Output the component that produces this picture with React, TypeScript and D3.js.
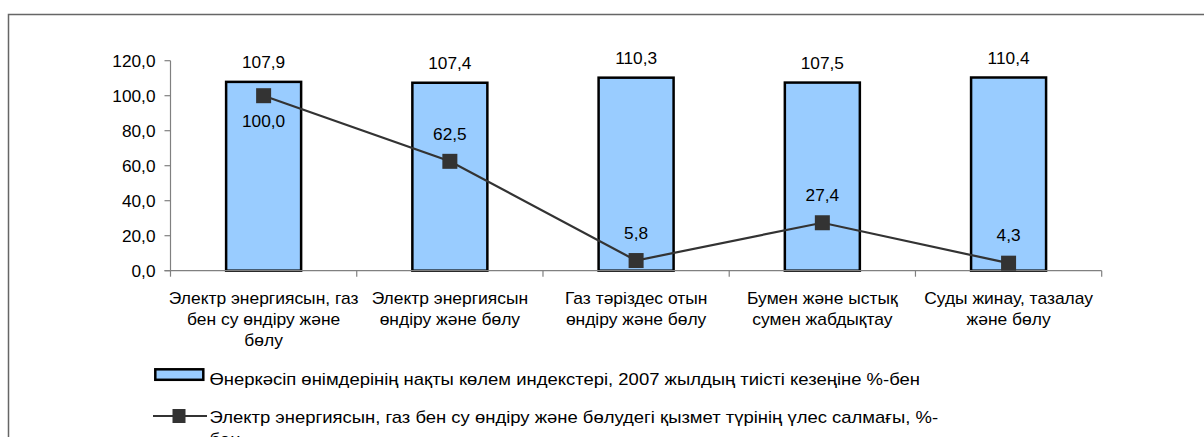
import React from "react";
import * as d3 from "d3";

const categories: string[][] = [
  ["Электр энергиясын, газ", "бен су өндіру және", "бөлу"],
  ["Электр энергиясын", "өндіру және бөлу"],
  ["Газ тәріздес отын", "өндіру және бөлу"],
  ["Бумен және ыстық", "сумен жабдықтау"],
  ["Суды жинау, тазалау", "және бөлу"],
];
const barValues = [107.9, 107.4, 110.3, 107.5, 110.4];
const lineValues = [100.0, 62.5, 5.8, 27.4, 4.3];
const yTicks = [0, 20, 40, 60, 80, 100, 120];
const legendBar = "Өнеркәсіп өнімдерінің нақты көлем индекстері, 2007 жылдың тиісті кезеңіне %-бен";
const legendLine = ["Электр энергиясын, газ бен су өндіру және бөлудегі қызмет түрінің үлес салмағы, %-", "бен"];

const fmt = (v: number) => v.toFixed(1).replace(".", ",");

function T(props: { x: number; y: number; sx: number; size: number; anchor?: string; children: React.ReactNode }) {
  const { x, y, sx, size, anchor, children } = props;
  return (
    <text transform={`translate(${x},${y}) scale(${sx},1)`} fontSize={size} textAnchor={anchor || "start"} fill="#000">
      {children}
    </text>
  );
}

export default function App() {
  const W = 1204, H = 437;
  const font = "Liberation Sans, Arial, sans-serif";
  const y = d3.scaleLinear().domain([0, 120]).range([270.7, 60.7]);
  const x = d3.scaleBand<number>().domain(d3.range(categories.length)).range([170.5, 1101.7]);
  const bw = 75;
  const cx = (i: number) => (x(i) as number) + x.bandwidth() / 2;
  const line = d3.line<number>().x((_, i) => cx(i)).y((d) => y(d));
  const ms = 15;
  const fs = 16.3;

  return (
    <svg width={W} height={H} style={{ position: "absolute", left: 0, top: 0, background: "#fff" }} fontFamily={font}>
      <rect x={8.5} y={14.5} width={1300} height={500} fill="#fff" stroke="#666" strokeWidth={1.5} />
      {/* y axis */}
      <line x1={170.5} x2={170.5} y1={y(120)} y2={y(0)} stroke="#808080" strokeWidth={1.2} />
      {yTicks.map((t) => (
        <g key={t}>
          <line x1={164.5} x2={170.5} y1={y(t)} y2={y(t)} stroke="#808080" strokeWidth={1.2} />
          <T x={155.5} y={y(t) + 6} sx={1.06} size={fs} anchor="end">{fmt(t)}</T>
        </g>
      ))}
      {/* bars */}
      {barValues.map((v, i) => (
        <g key={i}>
          <rect x={cx(i) - bw / 2} y={y(v)} width={bw} height={y(0) - y(v)} fill="#99CCFF" stroke="#000" strokeWidth={2.5} />
          <T x={cx(i)} y={y(v) - 13.4} sx={1.06} size={fs} anchor="middle">{fmt(v)}</T>
        </g>
      ))}
      {/* x axis */}
      <line x1={164.5} x2={1101.7} y1={y(0)} y2={y(0)} stroke="#808080" strokeWidth={1.2} />
      {d3.range(categories.length + 1).map((i) => {
        const xx = 170.5 + i * x.bandwidth();
        return <line key={i} x1={xx} x2={xx} y1={y(0)} y2={y(0) + 6} stroke="#808080" strokeWidth={1.2} />;
      })}
      {categories.map((lines, i) => (
        <g key={i}>
          {lines.map((l, j) => (
            <T key={j} x={cx(i)} y={303.7 + j * 21} sx={1.09} size={16} anchor="middle">{l}</T>
          ))}
        </g>
      ))}
      {/* line */}
      <path d={line(lineValues) as string} fill="none" stroke="#333" strokeWidth={2.2} />
      {lineValues.map((v, i) => (
        <g key={i}>
          <rect x={cx(i) - ms / 2} y={y(v) - ms / 2} width={ms} height={ms} fill="#333" />
          <T x={cx(i)} y={i === 0 ? y(v) + 31.7 : y(v) - 21.8} sx={1.06} size={fs} anchor="middle">{fmt(v)}</T>
        </g>
      ))}
      {/* legend */}
      <rect x={155.3} y={369.3} width={48} height={10.5} fill="#99CCFF" stroke="#000" strokeWidth={2.5} />
      <T x={209.5} y={385} sx={1.14} size={16.2}>{legendBar}</T>
      <line x1={153} x2={207} y1={416} y2={416} stroke="#333" strokeWidth={2.2} />
      <rect x={179 - 6.5} y={416 - 7} width={13} height={14} fill="#333" />
      {legendLine.map((l, j) => (
        <T key={j} x={209.5} y={423.3 + j * 22} sx={1.14} size={16.2}>{l}</T>
      ))}
    </svg>
  );
}
